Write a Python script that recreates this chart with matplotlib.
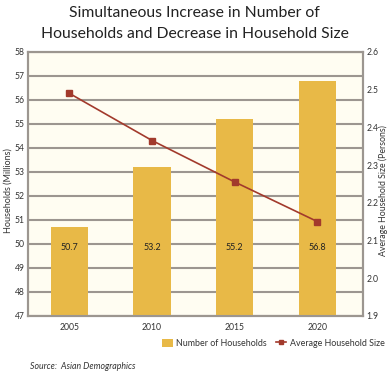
import matplotlib.pyplot as plt
from matplotlib.patches import Patch
from matplotlib.lines import Line2D

# values
years = ['2005', '2010', '2015', '2020']
households = [50.7, 53.2, 55.2, 56.8]          # millions
hh_size = [2.49, 2.365, 2.255, 2.15]           # persons
left_ticks = list(range(47, 59))
right_ticks = [1.9, 2.0, 2.1, 2.2, 2.3, 2.4, 2.5, 2.6]

bar_col = '#e8b947'
line_col = '#a23a2c'
grid_col = '#9c9690'
bg_col = '#fffdf2'
txt_col = '#333333'

plt.rcParams['font.family'] = ['Lato', 'DejaVu Sans']

fig = plt.figure(figsize=(3.89, 3.73), dpi=100)
ax = fig.add_axes([0.072, 0.153, 0.861, 0.708])
ax.set_facecolor(bg_col)
ax2 = ax.twinx()

x = list(range(len(years)))
ax.bar(x, households, width=0.45, color=bar_col, zorder=3)
for xi, v in zip(x, households):
    ax.text(xi, 49.85, f'{v:.1f}', ha='center', va='center',
            fontsize=6.5, color='#222222', zorder=4)

ax.set_ylim(47, 58)
ax.set_xlim(-0.5, 3.55)
ax.set_yticks(left_ticks)
ax.set_xticks(x)
ax.set_xticklabels(years)
ax.grid(axis='y', color=grid_col, linewidth=1.5, zorder=0)
ax.set_axisbelow(True)

ax2.plot(x, hh_size, color=line_col, linewidth=1.2, marker='s',
         markersize=4.5, zorder=5)
ax2.set_ylim(1.9, 2.6)
ax2.set_yticks(right_ticks)
ax2.set_yticklabels([f'{t:.1f}' for t in right_ticks])

for a in (ax, ax2):
    for s in a.spines.values():
        s.set_color(grid_col)
        s.set_linewidth(1.5)
    a.tick_params(length=0, labelsize=6.2, colors=txt_col, pad=2.5)
ax.tick_params(axis='x', pad=5)

# axis titles placed on the figure so they stay inside the canvas
fig.text(0.02, 0.49, 'Households (Millions)', rotation=90, fontsize=6.5,
         color=txt_col, ha='center', va='center')
fig.text(0.986, 0.49, 'Average Household Size (Persons)', rotation=90,
         fontsize=6.3, color=txt_col, ha='center', va='center')

fig.text(0.5, 0.965, 'Simultaneous Increase in Number of',
         ha='center', va='center', fontsize=11.3, color='#222222')
fig.text(0.5, 0.908, 'Households and Decrease in Household Size',
         ha='center', va='center', fontsize=11.3, color='#222222')

handles = [Patch(facecolor=bar_col, edgecolor='none'),
           Line2D([0], [0], color=line_col, marker='s', markersize=3.5, linewidth=1.2)]
fig.legend(handles, ['Number of Households', 'Average Household Size'],
           loc='center right', bbox_to_anchor=(1.005, 0.08), ncol=2, frameon=False,
           fontsize=6.4, handlelength=1.2, handleheight=1.0, handletextpad=0.4,
           columnspacing=1.0, labelcolor=txt_col, borderpad=0.2)

fig.text(0.077, 0.017, 'Source:  Asian Demographics', fontsize=6.3,
         style='italic', color=txt_col, va='center')

fig.savefig('out.png', dpi=100, facecolor='white')
